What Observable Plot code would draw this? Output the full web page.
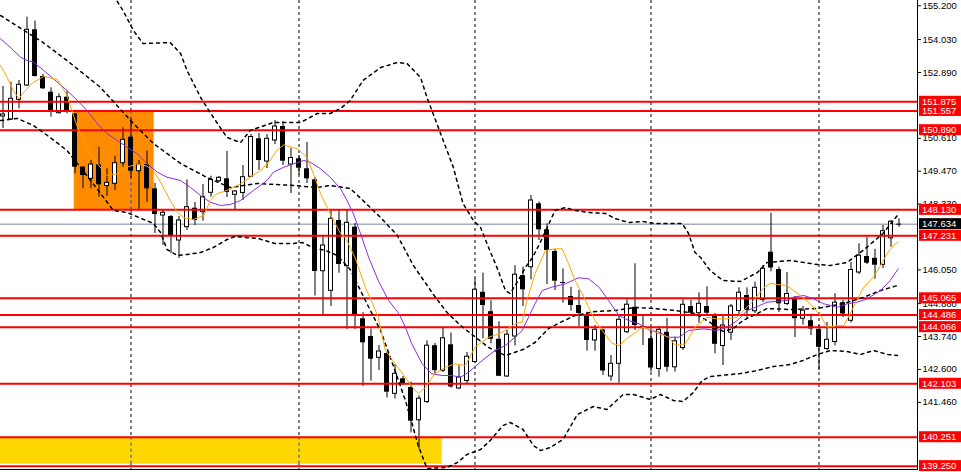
<!DOCTYPE html>
<html><head><meta charset="utf-8">
<script src="https://cdn.jsdelivr.net/npm/d3@7"></script>
<script src="https://cdn.jsdelivr.net/npm/@observablehq/plot@0.6"></script>
<style>html,body{margin:0;padding:0;background:#fff;overflow:hidden}</style>
</head><body><div id="chart"></div>
<script>
// ---- Candles (bar index = position in arrays) ----
const open = [151.365,151.261,151.943,152.439,154.369,152.751,152.207,151.479,152.033,151.458,
149.608,149.206,149.691,148.956,149.033,149.746,150.647,149.469,149.701,148.859,
147.934,147.900,147.068,147.529,148.187,148.049,148.721,149.123,149.206,148.652,
148.714,149.275,150.592,149.805,150.533,151.018,149.701,149.899,149.552,149.171,
146.004,145.325,147.761,146.178,147.529,144.355,143.742,143.004,143.153,141.756,
142.276,141.974,140.838,141.472,143.423,142.556,143.454,141.940,142.200,142.858,
145.273,144.601,143.645,142.356,143.742,145.848,146.143,148.340,147.439,146.687,
145.640,145.128,144.816,144.469,143.603,143.967,142.356,142.796,143.891,144.753,
144.105,143.665,142.615,143.887,142.674,143.343,144.781,144.549,144.781,144.487,
143.412,143.873,144.625,145.162,144.618,145.006,146.663,146.063,144.868,145.058,
144.358,144.289,143.991,143.308,143.551,144.913,144.286,145.959,146.514,146.451,
146.226,147.144,147.647];
const high = [152.404,152.553,152.612,154.805,154.667,152.820,152.359,152.151,152.241,151.469,
149.632,149.840,150.301,149.552,149.989,150.973,151.295,149.840,150.169,149.043,
148.107,147.934,147.900,149.171,148.385,149.008,149.296,149.286,150.152,148.800,
149.667,150.741,150.776,150.741,151.226,151.191,150.256,150.013,150.464,149.251,
147.241,148.107,148.107,148.107,147.657,144.563,144.001,143.430,143.198,142.771,
142.356,142.158,141.687,143.593,143.499,144.036,143.863,142.726,143.187,145.734,
145.935,144.982,144.254,143.949,146.195,146.150,148.627,148.402,147.647,146.756,
146.087,145.450,145.335,144.584,144.123,144.001,143.083,144.504,145.013,146.261,
144.435,144.019,144.088,144.376,143.717,145.013,144.989,145.256,145.464,144.539,
144.469,144.850,145.429,145.429,145.623,146.202,148.014,146.143,145.959,145.128,
144.781,144.514,144.123,144.227,145.225,144.989,146.306,146.957,147.179,146.763,
147.588,147.761,147.820];
const low = [150.949,151.226,151.631,152.404,152.733,152.300,151.340,151.451,151.458,149.379,
148.859,148.859,148.568,148.593,148.800,149.608,149.216,148.090,148.385,147.311,
146.895,146.618,146.444,147.414,147.588,147.737,148.568,149.078,148.558,148.142,
148.454,149.251,149.493,149.563,150.394,149.667,148.697,149.320,149.043,145.145,
144.504,144.781,145.935,143.984,143.984,142.009,142.193,142.563,141.611,141.576,
142.044,140.398,139.837,141.420,142.435,142.494,141.950,141.905,142.078,142.823,
143.662,143.489,142.349,142.321,143.412,144.781,145.706,147.068,145.543,145.335,
144.895,144.618,144.088,143.232,143.232,142.390,142.193,142.123,143.846,143.949,
143.430,142.505,142.331,142.505,142.505,143.256,144.521,144.202,144.435,143.142,
142.737,143.603,144.469,144.365,144.539,144.920,145.983,144.573,144.816,143.707,
144.133,143.776,142.556,143.256,143.419,144.400,144.209,145.890,146.236,145.727,
146.098,146.836,147.529];
const close = [151.434,151.978,152.463,154.369,152.751,152.324,151.514,152.033,151.514,149.608,
149.320,149.701,149.000,149.067,149.746,150.557,149.469,149.701,148.859,147.969,
148.028,147.231,147.761,148.222,147.761,148.568,149.171,149.241,148.731,148.766,
149.261,150.654,149.840,150.592,151.018,149.816,149.927,149.573,149.206,145.994,
146.895,147.820,146.236,147.681,144.435,143.523,142.955,143.222,141.812,142.449,
142.113,140.807,141.586,143.423,142.556,143.679,141.992,142.321,143.042,145.363,
144.816,143.645,142.363,143.804,145.883,145.360,148.454,147.439,146.721,145.658,
145.613,144.816,144.539,143.603,143.974,142.546,142.796,144.320,144.843,144.123,
144.088,142.650,143.974,142.674,143.575,144.840,144.549,144.875,144.549,143.471,
144.123,144.781,145.259,144.642,145.429,146.087,146.115,144.875,145.214,144.358,
144.636,144.001,143.367,143.627,144.913,144.521,146.046,146.541,146.282,146.212,
147.390,147.719,147.634];

// ---- Indicators: [bar index, price] ----
const bbUpper = [[13.8,155.557],[15.0,155.038],[16.3,154.345],[17.5,153.894],[20.9,153.929],[22.2,153.548],[23.0,152.959],[24.7,152.023],[26.3,151.330],[28.0,150.637],[29.7,150.464],[30.9,150.880],[33.8,151.157],[37.2,151.157],[39.3,151.468],[40.9,151.468],[42.2,151.642],[43.4,151.919],[45.0,152.612],[47.2,153.062],[49.3,153.236],[50.5,153.201],[52.2,152.716],[53.0,152.023],[54.7,150.776],[56.3,149.597],[57.5,148.350],[58.8,147.761],[59.7,147.518],[60.7,146.825],[61.9,146.028],[62.8,145.335],[63.4,145.232],[64.4,145.682],[65.3,146.133],[66.2,146.479],[67.4,147.137],[69.0,148.107],[70.3,148.212],[71.5,148.107],[73.2,148.038],[75.3,148.004],[76.5,147.830],[78.2,147.692],[79.9,147.727],[81.5,147.657],[84.9,147.657],[85.7,147.311],[86.5,146.652],[87.2,146.479],[88.4,146.028],[90.0,145.682],[92.2,145.647],[94.3,145.959],[95.5,146.306],[98.4,146.375],[101.8,146.236],[103.4,146.202],[105.5,146.306],[107.5,146.722],[110.0,147.311],[111.8,147.934]];
const bbMiddle = [[-0.3,154.864],[5.0,153.929],[8.0,153.305],[12.2,152.369],[16.3,151.122],[18.8,150.429],[22.2,149.736],[25.5,149.251],[28.4,148.904],[31.8,149.043],[36.3,148.974],[39.3,148.904],[40.9,148.974],[43.4,148.870],[45.0,148.454],[47.2,147.865],[49.3,147.241],[51.3,146.202],[53.8,145.197],[55.5,144.573],[57.2,144.123],[58.8,143.776],[60.7,143.360],[62.8,143.083],[65.0,143.291],[66.5,143.534],[68.2,144.019],[69.9,144.261],[71.5,144.469],[74.0,144.608],[76.5,144.642],[79.0,144.746],[81.5,144.712],[84.0,144.642],[86.5,144.539],[88.4,144.227],[90.0,143.915],[91.3,144.019],[92.5,144.296],[94.3,144.539],[95.5,144.712],[98.4,144.677],[101.8,144.712],[103.8,144.816],[105.5,144.920],[107.5,145.093],[109.7,145.335],[111.8,145.509]];
const bbLower = [[-0.3,151.226],[1.8,151.295],[3.8,151.053],[5.9,150.637],[8.0,150.187],[9.7,149.597],[12.2,148.697],[13.8,148.107],[15.5,148.038],[18.8,147.657],[19.7,147.345],[20.5,146.756],[21.8,146.548],[23.0,146.583],[24.7,146.652],[26.3,146.826],[28.0,147.103],[29.0,147.207],[31.9,147.137],[34.0,146.964],[36.2,146.964],[37.4,146.999],[38.7,146.826],[40.3,146.722],[41.8,146.548],[43.4,146.063],[45.3,144.989],[47.2,143.949],[49.0,142.563],[50.3,141.524],[51.2,140.658],[51.9,139.965],[53.0,139.168],[55.5,139.203],[56.8,139.376],[58.0,139.653],[59.7,139.826],[60.9,140.138],[62.5,140.658],[63.4,140.762],[65.0,140.519],[66.3,139.965],[67.2,139.791],[68.4,139.895],[70.0,140.173],[71.8,141.039],[73.8,141.316],[75.5,141.212],[77.5,141.732],[78.8,141.732],[80.9,141.559],[82.2,141.732],[83.8,141.524],[85.0,141.489],[86.3,141.801],[87.4,142.217],[88.4,142.356],[89.7,142.390],[92.2,142.459],[94.3,142.563],[96.3,142.702],[98.4,142.771],[100.0,142.910],[101.8,143.118],[103.4,143.256],[105.5,143.222],[107.2,143.118],[108.8,143.256],[110.6,143.118],[111.8,143.083]];
const maFast = [[-0.3,153.132],[0.5,152.726],[1.3,152.265],[2.0,151.978],[2.6,152.207],[3.8,152.553],[5.1,152.751],[6.8,152.647],[8.0,152.092],[8.6,151.573],[9.3,150.994],[10.1,150.533],[10.9,150.072],[11.8,149.726],[13.0,149.320],[14.3,149.379],[15.5,149.608],[16.8,149.726],[18.0,149.643],[18.8,149.493],[19.7,149.088],[20.9,148.454],[21.8,148.049],[22.6,147.855],[23.8,147.796],[25.1,147.934],[25.9,148.454],[26.7,148.686],[28.0,148.800],[29.7,149.033],[30.9,149.261],[32.2,149.493],[33.4,149.840],[34.2,150.187],[35.1,150.384],[36.8,150.246],[38.0,149.954],[38.8,149.379],[39.7,148.686],[40.9,147.993],[42.2,147.300],[42.8,147.172],[44.0,146.479],[45.3,145.439],[46.2,144.885],[46.9,144.400],[47.8,143.256],[49.0,142.806],[50.3,142.321],[51.2,141.974],[51.9,141.767],[52.8,141.974],[54.0,142.460],[55.3,142.668],[56.5,142.796],[57.8,142.737],[59.0,143.371],[60.7,143.717],[62.0,143.835],[62.8,143.949],[64.0,144.182],[64.9,144.237],[65.5,144.989],[66.5,145.914],[67.8,146.721],[69.0,146.780],[69.9,146.780],[70.7,146.260],[71.5,145.682],[72.4,145.221],[73.2,144.757],[74.0,144.296],[74.9,143.949],[76.1,143.509],[77.0,143.430],[78.2,143.717],[79.4,143.949],[79.9,144.064],[80.7,144.008],[81.5,143.891],[83.2,143.717],[84.0,143.430],[85.3,143.489],[86.5,144.064],[88.0,144.410],[89.2,144.355],[90.5,144.355],[91.8,144.410],[92.6,144.642],[93.8,144.989],[95.1,145.429],[95.9,145.589],[96.8,145.543],[98.0,145.509],[98.8,145.335],[99.7,145.162],[100.9,144.875],[102.2,144.469],[103.0,144.064],[104.3,144.123],[105.1,144.123],[105.9,144.528],[106.7,144.989],[107.6,145.450],[108.8,145.796],[109.7,146.202],[110.5,146.607],[111.3,146.895],[111.9,147.009]];
const maSlow = [[-0.3,154.057],[0.9,153.766],[2.2,153.419],[3.0,153.305],[3.8,153.246],[5.1,152.959],[6.3,152.671],[8.0,152.265],[9.3,151.919],[10.5,151.573],[11.8,151.112],[13.0,150.765],[14.3,150.533],[15.5,150.301],[16.8,150.072],[18.0,149.726],[19.3,149.435],[20.5,149.261],[22.2,149.147],[23.4,148.915],[24.7,148.627],[25.9,148.395],[27.2,148.281],[28.4,148.315],[29.7,148.454],[31.3,148.800],[33.0,149.147],[33.8,149.435],[35.1,149.608],[36.3,149.726],[37.6,149.840],[38.4,149.781],[39.7,149.552],[40.9,149.261],[42.2,148.859],[43.0,148.454],[43.8,147.993],[44.7,147.300],[45.7,146.490],[46.9,145.682],[48.2,144.989],[49.5,144.528],[50.3,144.064],[51.1,143.489],[52.4,142.796],[53.6,142.449],[54.9,142.390],[56.1,142.390],[57.2,142.331],[58.2,142.505],[59.9,142.910],[61.5,143.256],[62.8,143.430],[64.0,143.717],[64.9,143.949],[65.7,144.410],[66.5,144.875],[67.4,145.335],[68.6,145.450],[70.3,145.568],[71.9,145.776],[73.2,145.741],[74.5,145.450],[75.7,144.989],[77.0,144.469],[78.2,144.296],[79.5,144.182],[80.7,143.974],[82.0,143.891],[83.2,143.717],[84.5,143.717],[85.7,143.949],[87.6,144.008],[89.2,143.949],[90.5,144.064],[91.8,144.296],[93.0,144.642],[94.3,144.781],[95.5,144.930],[98.0,144.989],[98.8,145.104],[100.1,145.162],[101.3,145.048],[102.6,144.875],[104.3,144.757],[105.5,144.875],[106.8,144.930],[108.0,145.048],[109.7,145.335],[110.9,145.682],[111.9,146.087]];

// ---- Horizontal levels, ticks, separators, zones ----
const levels = [151.875, 151.557, 150.890, 148.130, 147.231, 145.065, 144.486, 144.066, 142.103, 140.251, 139.250];
const bid = 147.634;
const tickValues = [155.2, 154.03, 152.89, 150.61, 149.47, 148.33, 146.05, 144.88, 143.74, 142.6, 141.46];
const separators = [16, 37, 59, 81, 102];
const zoneX1 = [8.9, -0.5];
const zoneX2 = [18.9, 54.9];
const zoneLow = [148.130, 139.317];
const zoneHigh = [151.557, 140.251];
const zoneColor = ["#FF8C00", "#FFD700"];

// ---- Build tables ----
const candles = open.map((o, i) => ({i, open: o, high: high[i], low: low[i], close: close[i]}));
const bull = candles.filter(d => d.close - d.open >= 0.03);
const bear = candles.filter(d => d.open - d.close >= 0.03);
const doji = candles.filter(d => Math.abs(d.close - d.open) < 0.03);
const pts = a => a.map(([i, v]) => ({i, v}));
const zones = zoneX1.map((x1, k) => ({x1, x2: zoneX2[k], y1: zoneLow[k], y2: zoneHigh[k], fill: zoneColor[k]}));
const sepInZones = [];
zones.forEach(z => separators.forEach(s => { if (s > z.x1 && s < z.x2) sepInZones.push({x: s, y1: z.y1, y2: z.y2}); }));

// ---- Layout ----
const W = 961, H = 472, R = 917, B = 469, X0 = 2.5, STEP = 8;
const yTop = 155.384, perPx = 0.03465;
const half = 2.5 / STEP, halfW = 2 / STEP;
const font = "'Liberation Sans', Arial, sans-serif";

const chart = Plot.plot({
  width: W, height: H,
  marginLeft: 0, marginRight: W - R, marginTop: 0, marginBottom: H - B,
  x: {type: "linear", domain: [-X0 / STEP, (R - X0) / STEP], range: [0, R], axis: null},
  y: {type: "linear", domain: [yTop - B * perPx, yTop], range: [B, 0], axis: null},
  style: {fontFamily: font, fontSize: "9.5px", background: "white", color: "black"},
  marks: [
    Plot.ruleX(separators, {x: d => d, stroke: "black", strokeDasharray: "3,3"}),
    Plot.rect(zones, {x1: "x1", x2: "x2", y1: "y1", y2: "y2", fill: "fill"}),
    Plot.ruleX(sepInZones, {x: "x", y1: "y1", y2: "y2", stroke: "#1a3cff", strokeDasharray: "3,3"}),
    Plot.ruleY([bid], {stroke: "#778899"}),
    Plot.ruleX(candles, {x: "i", y1: "low", y2: "high", stroke: "black"}),
    Plot.rect(bear, {x1: d => d.i - half, x2: d => d.i + half, y1: "open", y2: "close", fill: "black"}),
    Plot.rect(bull, {x1: d => d.i - halfW, x2: d => d.i + halfW, y1: "open", y2: "close", fill: "white", stroke: "black"}),
    Plot.ruleY(doji, {y: "close", x1: d => d.i - half, x2: d => d.i + half, stroke: "black"}),
    Plot.ruleY(levels, {y: d => d, stroke: "#ff0000", strokeWidth: 2}),
    Plot.line(pts(bbUpper), {x: "i", y: "v", stroke: "black", strokeDasharray: "3,4", clip: true}),
    Plot.line(pts(bbMiddle), {x: "i", y: "v", stroke: "black", strokeDasharray: "3,4", clip: true}),
    Plot.line(pts(bbLower), {x: "i", y: "v", stroke: "black", strokeDasharray: "3,4", clip: true}),
    Plot.line(pts(maSlow), {x: "i", y: "v", stroke: "#8a2be2", strokeWidth: 1, clip: true}),
    Plot.line(pts(maFast), {x: "i", y: "v", stroke: "#ffa500", strokeWidth: 1, clip: true}),
    Plot.axisY({anchor: "right", ticks: tickValues, tickFormat: d => d.toFixed(3), tickSize: 3, tickPadding: 2, fontSize: 9.5}),
    Plot.frame({anchor: "right"}),
    Plot.frame({anchor: "bottom"})
  ]
});

// price labels in the right margin, positioned with Plot's y scale
const ys = chart.scale("y");
const svg = d3.select(chart);
const lab = svg.append("g").attr("font-family", font).attr("font-size", "9.5px").attr("text-anchor", "start");
function addLabel(v, bg) {
  const yy = ys.apply(v);
  lab.append("rect").attr("x", R + 2).attr("y", yy - 5.5).attr("width", W - R - 2).attr("height", 11).attr("fill", bg);
  lab.append("text").attr("x", R + 5).attr("y", yy).attr("dy", "0.36em").attr("text-anchor", "start").attr("fill", "white").text(v.toFixed(3));
}
levels.forEach(v => addLabel(v, "#ff0000"));
addLabel(bid, "black");

document.getElementById("chart").appendChild(chart);
</script>
</body></html>
